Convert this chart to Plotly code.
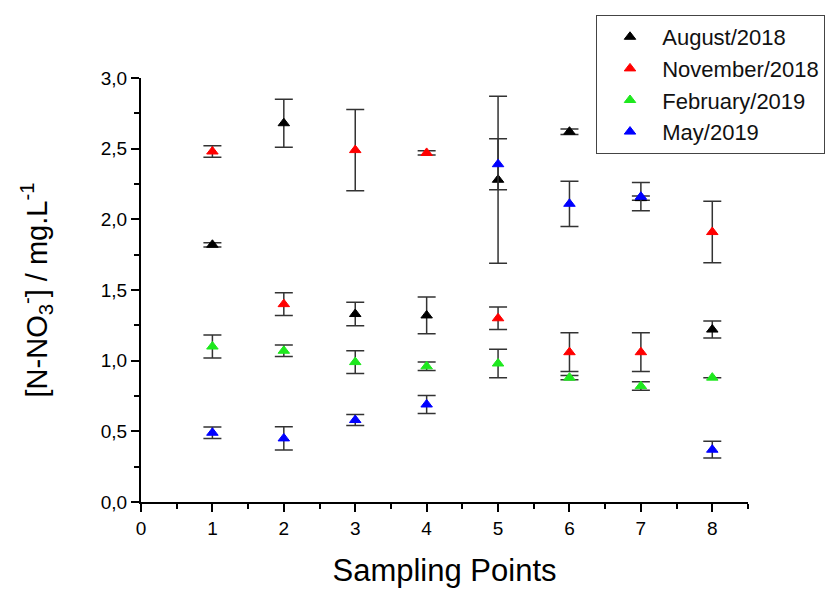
import plotly.graph_objects as go

points = [1, 2, 3, 4, 5, 6, 7, 8]
series_names = ["August/2018", "November/2018", "February/2019", "May/2019"]
colors = ["#000000", "#ff0000", "#1ee81e", "#0000ff"]

aug = [1.82, 2.68, 1.33, 1.32, 2.28, 2.62, 2.15, 1.22]
aug_err = [0.015, 0.17, 0.083, 0.13, 0.59, 0.02, 0.015, 0.06]
nov = [2.48, 1.40, 2.49, 2.47, 1.30, 1.06, 1.06, 1.91]
nov_err = [0.04, 0.08, 0.287, 0.015, 0.08, 0.137, 0.137, 0.218]
feb = [1.10, 1.07, 0.99, 0.96, 0.98, 0.88, 0.82, 0.88]
feb_err = [0.082, 0.04, 0.081, 0.03, 0.10, 0.015, 0.03, 0.0]
may = [0.49, 0.45, 0.58, 0.69, 2.39, 2.11, 2.16, 0.37]
may_err = [0.04, 0.082, 0.039, 0.064, 0.18, 0.16, 0.10, 0.059]

values = [aug, nov, feb, may]
errors = [aug_err, nov_err, feb_err, may_err]

FONT = "Liberation Sans, Arial, sans-serif"

fig = go.Figure()
for name, col, v, e in zip(series_names, colors, values, errors):
    fig.add_trace(go.Scatter(
        x=points, y=v, mode="markers",
        name="\u00a0\u00a0" + name,
        marker=dict(symbol="triangle-up", size=10, color=col,
                    line=dict(color=col, width=1)),
        error_y=dict(type="data", array=e, visible=True,
                     color="#333333", thickness=1.5, width=9),
    ))

# page body has an 8px default margin, so the figure is 8px smaller
fig.update_layout(
    width=829, height=584,
    margin=dict(l=133, r=89, t=70, b=90, autoexpand=False),
    paper_bgcolor="white", plot_bgcolor="white",
    separators=",.",
    font=dict(family=FONT, color="black", size=19),
    showlegend=True,
    legend=dict(
        x=0.7496, y=1.1486, xanchor="left", yanchor="top",
        bordercolor="#444444", borderwidth=1,
        font=dict(family=FONT, size=22, color="#111111"),
        indentation=13,
        entrywidth=260, entrywidthmode="pixels",
        bgcolor="white",
    ),
)

fig.update_xaxes(
    range=[0, 8.5], tickmode="array", tickvals=[0, 1, 2, 3, 4, 5, 6, 7, 8],
    showline=True, linecolor="black", linewidth=2, mirror=False,
    ticks="outside", ticklen=8, tickwidth=2, tickcolor="black",
    minor=dict(dtick=0.5, tick0=0, ticks="outside", ticklen=5, tickwidth=2, tickcolor="black", showgrid=False),
    showgrid=False, zeroline=False,
    tickfont=dict(size=19),
    title=dict(text="Sampling Points", font=dict(size=31), standoff=22),
)
fig.update_yaxes(
    range=[0, 3.0], tickmode="linear", tick0=0, dtick=0.5, tickformat=".1f",
    showline=True, linecolor="black", linewidth=2, mirror=False,
    ticks="outside", ticklen=8, tickwidth=2, tickcolor="black",
    minor=dict(dtick=0.25, tick0=0, ticks="outside", ticklen=5, tickwidth=2, tickcolor="black", showgrid=False),
    showgrid=False, zeroline=False,
    tickfont=dict(size=19),
    title=dict(text="[N-NO<sub>3</sub><sup>-</sup>] / mg.L<sup>-1</sup>", font=dict(size=29), standoff=45),
)

fig.write_html("out.html")
